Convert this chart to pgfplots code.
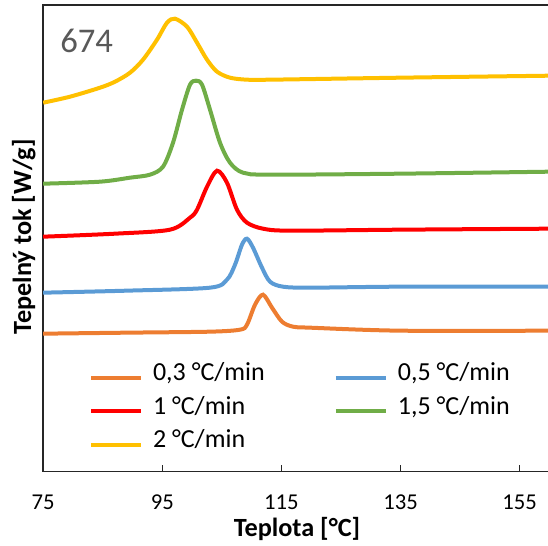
\documentclass[border=0pt]{standalone}
\usepackage{pgfplots}
\pgfplotsset{compat=1.18}
\usepackage{fontspec}
\setmainfont{Carlito}
\definecolor{cOrange}{HTML}{ED7D31}
\definecolor{cBlue}{HTML}{5B9BD5}
\definecolor{cRed}{HTML}{FF0000}
\definecolor{cGreen}{HTML}{70AD47}
\definecolor{cYellow}{HTML}{FFC000}
\definecolor{cGray}{HTML}{595959}
\begin{document}
\begin{tikzpicture}
\useasboundingbox (-32.4pt,-55pt) rectangle (378.6pt,353.75pt);
\begin{axis}[
  at={(0pt,0pt)}, anchor=south west,
  scale only axis,
  width=379.65pt, height=350pt,
  xmin=75, xmax=160, ymin=0, ymax=466.7,
  xtick={75,95,115,135,155},
  ytick=\empty,
  xtick pos=left,
  tick align=inside,
  major tick length=5.25pt,
  axis line style={line width=1.1pt, black!85},
  every tick/.style={line width=1.1pt, black!85},
  /pgf/number format/assume math mode=true,
  xticklabel style={font=\fontsize{17}{20}\selectfont, anchor=base, yshift=-28.7pt},
  every axis x label/.style={at={(rel axis cs:0.5014,-0.1399)}, anchor=base, font=\bfseries\fontsize{19.7}{23}\selectfont},
  every axis y label/.style={at={(rel axis cs:-0.0237,0.503)}, rotate=90, anchor=base, font=\bfseries\fontsize{19.7}{23}\selectfont},
  xlabel={Teplota [°C]},
  ylabel={Tepelný tok [W/g]},
  legend columns=2,
  legend cell align=left,
  legend image code/.code={\draw[#1] (0pt,0pt) -- (37.5pt,0pt);},
  legend style={at={(rel axis cs:0.0905,0.2372)}, anchor=north west, draw=none, fill=none,
    inner sep=0pt, outer sep=0pt, row sep=0pt,
    font=\fontsize{19.5}{23}\selectfont,
    nodes={inner sep=0pt, text height=15pt, text depth=10.1pt},
    /tikz/every odd column/.append style={column sep=7.5pt},
    /tikz/every even column/.append style={column sep=51.75pt}},
  every axis plot/.append style={line width=3pt, smooth},
]
% 0,3 C/min
\addplot[cOrange] coordinates {
(75,138) (88.99,139) (103.01,140) (108.05,142) (109.22,147) (110.57,167) (111.91,177)
(113.42,164) (115.10,150) (116.95,145) (119.80,144) (134.92,141) (160,141)};
\addlegendentry{0,3 °C/min}
% 0,5 C/min
\addplot[cBlue] coordinates {
(75,179) (88.99,181) (103.01,184) (105.86,192) (107.21,207) (108.38,227) (109.22,233)
(110.23,224) (111.74,204) (113.09,190) (115.27,185) (119.80,184) (134.92,185) (160,185)};
\addlegendentry{0,5 °C/min}
% 1 C/min
\addplot[cRed] coordinates {
(75,235) (87.06,238) (96.29,242) (99.65,254) (100.83,262) (102.51,285) (104.19,301)
(105.86,289) (107.54,262) (109.22,249) (111.91,243) (116.44,241) (134.92,242) (160,243)};
\addlegendentry{1 °C/min}
% 1,5 C/min
\addplot[cGreen] coordinates {
(75,288) (84.54,290) (89.58,294) (92.93,297) (95.12,305) (96.80,329) (98.31,362)
(99.65,387) (100.66,391) (101.67,387) (103.01,362) (104.69,329) (106.37,309)
(108.55,299) (113.09,297) (134.92,298) (160,300)};
\addlegendentry{1,5 °C/min}
% 2 C/min
\addplot[cYellow] coordinates {
(75,369) (79.50,375) (84.54,384) (87.06,390) (89.58,399) (91.76,412) (94.11,432)
(95.79,449) (97.13,453) (99.15,445) (100.83,429) (102.51,412) (104.19,400)
(106.37,394) (109.22,392) (113.09,392) (134.92,394) (160,396)};
\addlegendentry{2 °C/min}
\node[anchor=base west, inner sep=0pt, text=cGray, font=\fontsize{26}{30}\selectfont] at (axis cs:77.82,419) {674};
\end{axis}
\end{tikzpicture}
\end{document}
